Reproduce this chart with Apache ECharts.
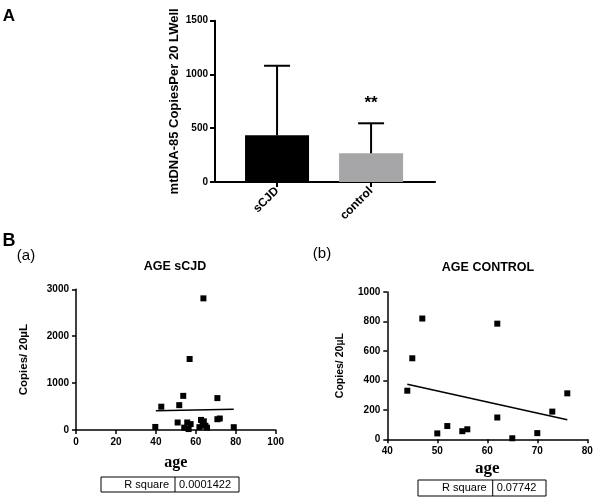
<!DOCTYPE html>
<html>
<head>
<meta charset="utf-8">
<title>mtDNA copies</title>
<script src="https://cdn.jsdelivr.net/npm/echarts@6/dist/echarts.min.js"></script>
<style>
  html, body { margin: 0; padding: 0; background: #fff; }
  #main { width: 600px; height: 503px; }
</style>
</head>
<body>
<div id="main"></div>
<script type="text/javascript">
// panel A: mean and upper error (mean + SD)
var groups    = ['sCJD', 'control'];
var means     = [434, 267];
var errTops   = [1081, 546];
var sigMarks  = ['', '**'];
var barColors = ['#000000', '#a6a6a9'];

// panel B(a): age vs copies, sCJD
var agesA   = [39.7, 42.7, 50.9, 51.7, 53.7, 54.2, 55.7, 56.4, 57.4, 56.9, 61.8, 62.6, 63.8, 64.0, 63.4, 64.8, 65.6, 70.8, 70.8, 72.0, 79.0];
var copiesA = [65, 497, 160, 530, 728, 50, 160, 20, 125, 1514, 60, 215, 2807, 185, 105, 90, 50, 680, 230, 245, 60];
var fitA    = [[40, 412], [79, 441]];
var rsqA    = '0.0001422';

// panel B(b): age vs copies, control
var agesB   = [44, 45, 47, 50, 52, 55, 56, 62, 62, 65, 70, 73, 76];
var copiesB = [330, 550, 820, 40, 90, 55, 68, 785, 148, 7, 42, 188, 312];
var fitB    = [[44, 373], [76, 133]];
var rsqB    = '0.07742';

function pairs(xs, ys) {
    return xs.map(function (x, i) { return [x, ys[i]]; });
}

var SANS = 'Liberation Sans, Arial, sans-serif';
var SERIF = 'Liberation Serif, Times New Roman, serif';

function axisStyle(lw) {
    return {
        nameMoveOverlap: false,
        axisLine: { show: true, onZero: false, lineStyle: { color: '#000', width: lw } },
        axisTick: { show: true, length: 4, lineStyle: { color: '#000', width: lw } },
        splitLine: { show: false },
        axisLabel: {
            color: '#000', fontWeight: 'bold', fontSize: 10, fontFamily: SANS, margin: 7,
            formatter: function (v) { return String(v); }   // no thousand separators
        }
    };
}

function mk(base, extra) {
    var o = axisStyle(base);
    for (var k in extra) {
        if (typeof extra[k] === 'object' && o[k] && !Array.isArray(extra[k])) {
            for (var j in extra[k]) o[k][j] = extra[k][j];
        } else {
            o[k] = extra[k];
        }
    }
    return o;
}

function rTable(x, y, w, h, divX, val) {
    return {
        type: 'group',
        children: [
            { type: 'rect', shape: { x: x, y: y, width: w, height: h },
              style: { fill: '#fff', stroke: '#000', lineWidth: 1 } },
            { type: 'line', shape: { x1: divX, y1: y, x2: divX, y2: y + h },
              style: { stroke: '#000', lineWidth: 1 } },
            { type: 'text', x: divX - 6, y: y + h / 2,
              style: { text: 'R square', fill: '#000', font: '11px ' + SANS, textAlign: 'right', textVerticalAlign: 'middle' } },
            { type: 'text', x: divX + 4, y: y + h / 2,
              style: { text: val, fill: '#000', font: '11px ' + SANS, textAlign: 'left', textVerticalAlign: 'middle' } }
        ]
    };
}

var myChart = echarts.init(document.getElementById('main'));

var option = {
    animation: false,
    backgroundColor: '#fff',
    grid: [
        { left: 215, top: 20.7, width: 220, height: 161.3 },
        { left: 76, top: 289.3, width: 199.7, height: 140.7 },
        { left: 387.3, top: 292, width: 200, height: 147.3 }
    ],
    xAxis: [
        mk(2, {
            gridIndex: 0, type: 'value', min: -0.66, max: 1.68,
            axisTick: { length: 5, customValues: [0, 1] },
            axisLabel: {
                customValues: [0, 1], rotate: 45, fontSize: 12, margin: 7,
                formatter: function (v) { return groups[Math.round(v)]; }
            }
        }),
        mk(1.5, {
            gridIndex: 1, type: 'value', min: 0, max: 100, interval: 20,
            name: 'age', nameLocation: 'middle', nameGap: 25,
            nameTextStyle: { fontFamily: SERIF, fontWeight: 'bold', fontSize: 16, color: '#000' }
        }),
        mk(1.5, {
            gridIndex: 2, type: 'value', min: 40, max: 80, interval: 10,
            name: 'age', nameLocation: 'middle', nameGap: 21,
            nameTextStyle: { fontFamily: SERIF, fontWeight: 'bold', fontSize: 17, color: '#000' }
        })
    ],
    yAxis: [
        mk(2, {
            gridIndex: 0, type: 'value', min: 0, max: 1500, interval: 500,
            axisTick: { length: 5 },
            name: 'mtDNA-85 CopiesPer 20 LWell', nameLocation: 'middle', nameGap: 34,
            nameTextStyle: { fontFamily: SANS, fontWeight: 'bold', fontSize: 13, color: '#000' }
        }),
        mk(1.5, {
            gridIndex: 1, type: 'value', min: 0, max: 3000, interval: 1000,
            name: 'Copies/ 20\u00b5L', nameLocation: 'middle', nameGap: 46,
            nameTextStyle: { fontFamily: SANS, fontWeight: 'bold', fontSize: 11.5, color: '#000' }
        }),
        mk(1.5, {
            gridIndex: 2, type: 'value', min: 0, max: 1000, interval: 200,
            name: 'Copies/ 20\u00b5L', nameLocation: 'middle', nameGap: 42,
            nameTextStyle: { fontFamily: SANS, fontWeight: 'bold', fontSize: 10.5, color: '#000' }
        })
    ],
    series: [
        {
            type: 'bar', xAxisIndex: 0, yAxisIndex: 0, barWidth: 64,
            data: means.map(function (m, i) {
                return { value: [i, m], itemStyle: { color: barColors[i] } };
            })
        },
        {
            // error bars + significance marks
            type: 'custom', xAxisIndex: 0, yAxisIndex: 0, z: 3,
            data: means.map(function (m, i) { return [i, m, errTops[i]]; }),
            renderItem: function (params, api) {
                var i = api.value(0);
                var p0 = api.coord([i, api.value(1)]);
                var p1 = api.coord([i, api.value(2)]);
                var half = 13;
                var st = { stroke: '#000', lineWidth: 2 };
                return {
                    type: 'group',
                    children: [
                        { type: 'line', shape: { x1: p0[0], y1: p0[1], x2: p1[0], y2: p1[1] }, style: st },
                        { type: 'line', shape: { x1: p1[0] - half, y1: p1[1], x2: p1[0] + half, y2: p1[1] }, style: st },
                        { type: 'text', x: p1[0], y: p1[1] - 20,
                          style: { text: sigMarks[params.dataIndex], fill: '#000', font: 'bold 17px ' + SANS,
                                   textAlign: 'center', textVerticalAlign: 'middle' } }
                    ]
                };
            }
        },
        {
            type: 'scatter', xAxisIndex: 1, yAxisIndex: 1, symbol: 'rect', symbolSize: 6,
            itemStyle: { color: '#000', opacity: 1 }, data: pairs(agesA, copiesA)
        },
        {
            type: 'line', xAxisIndex: 1, yAxisIndex: 1, symbol: 'none',
            lineStyle: { color: '#000', width: 1.5 }, data: fitA
        },
        {
            type: 'scatter', xAxisIndex: 2, yAxisIndex: 2, symbol: 'rect', symbolSize: 6,
            itemStyle: { color: '#000', opacity: 1 }, data: pairs(agesB, copiesB)
        },
        {
            type: 'line', xAxisIndex: 2, yAxisIndex: 2, symbol: 'none',
            lineStyle: { color: '#000', width: 1.5 }, data: fitB
        }
    ],
    graphic: [
        { type: 'text', x: 9, y: 16, style: { text: 'A', fill: '#000', font: 'bold 17px ' + SANS, textAlign: 'center', textVerticalAlign: 'middle' } },
        { type: 'text', x: 9, y: 241, style: { text: 'B', fill: '#000', font: 'bold 18px ' + SANS, textAlign: 'center', textVerticalAlign: 'middle' } },
        { type: 'text', x: 26, y: 256, style: { text: '(a)', fill: '#000', font: '15px ' + SANS, textAlign: 'center', textVerticalAlign: 'middle' } },
        { type: 'text', x: 322, y: 254, style: { text: '(b)', fill: '#000', font: '15px ' + SANS, textAlign: 'center', textVerticalAlign: 'middle' } },
        { type: 'text', x: 175, y: 267, style: { text: 'AGE sCJD', fill: '#000', font: 'bold 12.5px ' + SANS, textAlign: 'center', textVerticalAlign: 'middle' } },
        { type: 'text', x: 488, y: 268, style: { text: 'AGE CONTROL', fill: '#000', font: 'bold 12.5px ' + SANS, textAlign: 'center', textVerticalAlign: 'middle' } },
        rTable(101, 477, 138, 15, 175, rsqA),
        rTable(418, 480, 128, 16, 492.7, rsqB)
    ]
};

myChart.setOption(option);
window.onresize = myChart.resize;
</script>
</body>
</html>
